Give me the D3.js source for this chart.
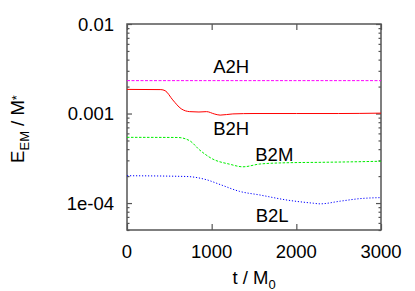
<!DOCTYPE html>
<html>
<head>
<meta charset="utf-8">
<script src="https://cdn.jsdelivr.net/npm/d3@7"></script>
<style>
  body { margin: 0; background: #fff; }
  svg text { font-family: "Liberation Sans", Arial, sans-serif; fill: #000; }
</style>
</head>
<body>
<div id="chart"></div>
<script>
  // series (t in M0, energy in M*)
  var a2hT = [0, 3000],
    a2hV = [0.00233, 0.00233];

  var b2hT = [0, 400, 450, 540, 640, 740, 850, 940, 1030, 1100, 1250, 1500, 2000, 2500, 3000],
    b2hV = [0.00186, 0.00185, 0.0018, 0.00142, 0.00113, 0.00105, 0.00104, 0.00105, 0.00099, 0.00096, 0.00099, 0.001, 0.001, 0.001, 0.00101];

  var b2mT = [0, 600, 740, 860, 1010, 1210, 1370, 1570, 1890, 2280, 2600, 3000],
    b2mV = [0.000542, 0.00054, 0.000497, 0.00039, 0.000311, 0.000272, 0.000254, 0.000273, 0.000282, 0.000285, 0.000288, 0.000293];

  var b2lT = [0, 700, 940, 1100, 1330, 1570, 1890, 2200, 2280, 2520, 2750, 3000],
    b2lV = [0.000202, 0.000198, 0.000182, 0.000161, 0.000135, 0.000123, 0.000108, 0.0000996, 0.000098, 0.000105, 0.000112, 0.000115];

  var xTicks = [0, 1000, 2000, 3000],
    yTicks = [0.0001, 0.001, 0.01],
    yTickLabels = ['1e-04', '0.001', '0.01'];

  var labels = [
    { text: 'A2H', t: 1230, v: 0.00284 },
    { text: 'B2H', t: 1230, v: 0.000575 },
    { text: 'B2M', t: 1740, v: 0.000294 },
    { text: 'B2L', t: 1715, v: 0.0000614 }
  ];

  var settings = {
    width: 415, height: 291,
    left: 127, right: 381, top: 24, bottom: 230,
    fontSize: 18.5
  };

  var svg = d3.select('#chart').append('svg')
    .attr('width', settings.width)
    .attr('height', settings.height);

  var x = d3.scaleLinear().domain([0, 3000]).range([settings.left, settings.right]);
  var y = d3.scaleLog().domain([0.00005, 0.01]).range([settings.bottom, settings.top]);

  var minor = [];
  [0.00001, 0.0001, 0.001].forEach(function (d) {
    for (var k = 2; k <= 9; k++) {
      var v = d * k;
      if (v >= 0.00005 && v <= 0.01) minor.push(v);
    }
  });

  // y axes (left + right) with inward ticks
  var axisColor = '#555';
  var yLeft = d3.axisRight(y).tickValues(yTicks).tickSize(5).tickFormat('');
  var yRight = d3.axisLeft(y).tickValues(yTicks).tickSize(5).tickFormat('');
  var yLeftMinor = d3.axisRight(y).tickValues(minor).tickSize(2.5).tickFormat('');
  var yRightMinor = d3.axisLeft(y).tickValues(minor).tickSize(2.5).tickFormat('');
  var xBottom = d3.axisTop(x).tickValues(xTicks).tickSize(6).tickFormat('');
  var xTop = d3.axisBottom(x).tickValues(xTicks).tickSize(6).tickFormat('');

  [
    [yLeft, 'translate(' + settings.left + ',0)'],
    [yLeftMinor, 'translate(' + settings.left + ',0)'],
    [yRight, 'translate(' + settings.right + ',0)'],
    [yRightMinor, 'translate(' + settings.right + ',0)'],
    [xBottom, 'translate(0,' + settings.bottom + ')'],
    [xTop, 'translate(0,' + settings.top + ')']
  ].forEach(function (a) {
    var g = svg.append('g').attr('transform', a[1]).call(a[0]);
    g.select('.domain').remove();
    g.selectAll('line').attr('stroke', axisColor).attr('stroke-width', 1.2);
  });

  svg.append('rect')
    .attr('x', settings.left).attr('y', settings.top)
    .attr('width', settings.right - settings.left)
    .attr('height', settings.bottom - settings.top)
    .attr('fill', 'none')
    .attr('stroke', axisColor)
    .attr('stroke-width', 1.5);

  // tick labels
  svg.selectAll('.ylab').data(yTicks).enter().append('text')
    .attr('x', settings.left - 13)
    .attr('y', function (d) { return y(d); })
    .attr('dy', '0.36em')
    .attr('text-anchor', 'end')
    .style('font-size', settings.fontSize + 'px')
    .text(function (d, i) { return yTickLabels[i]; });

  svg.selectAll('.xlab').data(xTicks).enter().append('text')
    .attr('x', function (d) { return x(d); })
    .attr('y', 258)
    .attr('text-anchor', 'middle')
    .style('font-size', settings.fontSize + 'px')
    .text(function (d) { return d; });

  // axis titles
  var xt = svg.append('text')
    .attr('x', 254).attr('y', 284)
    .attr('text-anchor', 'middle')
    .style('font-size', settings.fontSize + 'px');
  xt.append('tspan').text('t / M');
  xt.append('tspan').attr('dy', 5).style('font-size', '13px').text('0');

  var yt = svg.append('text')
    .attr('transform', 'translate(24,129) rotate(-90)')
    .attr('text-anchor', 'middle')
    .style('font-size', settings.fontSize + 'px');
  yt.append('tspan').text('E');
  yt.append('tspan').attr('dy', 5).style('font-size', '13px').text('EM');
  yt.append('tspan').attr('dy', -5).text(' / M');
  yt.append('tspan').attr('dy', -3).style('font-size', '13px').text('*');

  // series lines
  var line = d3.line()
    .x(function (d) { return x(d[0]); })
    .y(function (d) { return y(d[1]); })
    .curve(d3.curveMonotoneX);

  var series = [
    { t: a2hT, v: a2hV, color: '#ff00ff', dash: '3,1.5' },
    { t: b2hT, v: b2hV, color: '#ff0000', dash: null },
    { t: b2mT, v: b2mV, color: '#00ee00', dash: '2.5,1.5' },
    { t: b2lT, v: b2lV, color: '#0000ff', dash: '1.2,1.8' }
  ];

  series.forEach(function (s) {
    svg.append('path')
      .datum(d3.zip(s.t, s.v))
      .attr('d', line)
      .attr('fill', 'none')
      .attr('stroke', s.color)
      .attr('stroke-width', 1)
      .attr('stroke-dasharray', s.dash);
  });

  svg.selectAll('.lab').data(labels).enter().append('text')
    .attr('x', function (d) { return x(d.t); })
    .attr('y', function (d) { return y(d.v); })
    .attr('text-anchor', 'middle')
    .style('font-size', settings.fontSize + 'px')
    .text(function (d) { return d.text; });
</script>
</body>
</html>
